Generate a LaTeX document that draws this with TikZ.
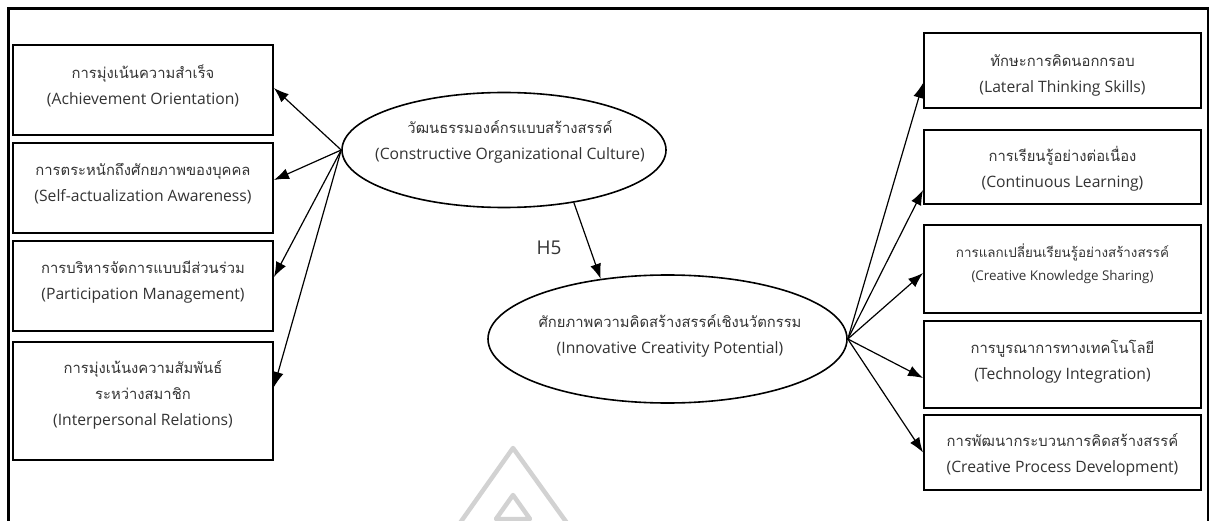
\documentclass[tikz,border=0pt]{standalone}
\usepackage{fontspec}
\setmainfont{Open Sans}
\newfontfamily\thai[Script=Thai]{Loma}
\usetikzlibrary{shapes.geometric,arrows.meta}
\definecolor{inkgrey}{HTML}{333333}
\definecolor{markgrey}{HTML}{D2D2D2}
% Thai line and English line of a two-language label
\newcommand{\thline}[1]{{\thai\fontsize{14.8}{26}\selectfont #1}}
\newcommand{\thsmall}[1]{{\thai\fontsize{13.4}{23}\selectfont #1}}
\begin{document}
\begin{tikzpicture}[x=1pt,y=-1pt,
  box/.style={draw=black,line width=1.9pt,inner sep=0pt},
  lbox/.style={box,minimum width=260pt},
  rbox/.style={box,minimum width=277pt},
  oval/.style={draw=black,line width=1.6pt,ellipse,inner sep=0pt},
  txt/.style={align=center,text=inkgrey,font=\fontsize{15.7}{26}\selectfont,inner sep=0pt},
  smalltxt/.style={txt,font=\fontsize{13.4}{23}\selectfont},
  link/.style={draw=black,line width=1.2pt,-{Latex[length=15pt,width=11pt]}},
  frameline/.style={draw=black,line width=2.8pt},
  emblem/.style={draw=markgrey,line width=4.5pt,line join=round,line cap=round}]
\useasboundingbox (0,0) rectangle (1214,521);
\clip (0,0) rectangle (1214,521);

% outer frame, open at the bottom
\draw[frameline] (8.5,530) -- (8.5,8.5) -- (1208,8.5) -- (1208,530);

% grey emblem along the lower edge
\draw[emblem] (455,530) -- (513,448) -- (572,530);
\draw[emblem] (496,519) -- (513,495) -- (530,519) -- cycle;

% dimension boxes, left
\node[lbox,minimum height=90pt]  (L1) at (143,90) {};
\node[lbox,minimum height=90pt]  (L2) at (143,188) {};
\node[lbox,minimum height=90pt]  (L3) at (143,286) {};
\node[lbox,minimum height=118pt] (L4) at (143,401) {};
\node[txt] (tL1) at (143,86) {\thline{การมุ่งเน้นความสำเร็จ}\\(Achievement Orientation)};
\node[txt] (tL2) at (143,183.5) {\thline{การตระหนักถึงศักยภาพของบุคคล}\\(Self-actualization Awareness)};
\node[txt] (tL3) at (143,282) {\thline{การบริหารจัดการแบบมีส่วนร่วม}\\(Participation Management)};
\node[txt] (tL4) at (143,395) {\thline{การมุ่งเน้นงความสัมพันธ์}\\\thline{ระหว่างสมาชิก}\\(Interpersonal Relations)};

% dimension boxes, right
\node[rbox,minimum height=75pt] (R1) at (1062.5,70.5) {};
\node[rbox,minimum height=74pt] (R2) at (1062.5,167) {};
\node[rbox,minimum height=88pt] (R3) at (1062.5,269) {};
\node[rbox,minimum height=87pt] (R4) at (1062.5,364.5) {};
\node[rbox,minimum height=75pt] (R5) at (1062.5,452.5) {};
\node[txt] (tR1) at (1062.5,75) {\thline{ทักษะการคิดนอกกรอบ}\\(Lateral Thinking Skills)};
\node[txt] (tR2) at (1062.5,168.5) {\thline{การเรียนรู้อย่างต่อเนื่อง}\\(Continuous Learning)};
\node[smalltxt] (tR3) at (1062.5,263.5) {\thsmall{การแลกเปลี่ยนเรียนรู้อย่างสร้างสรรค์}\\(Creative Knowledge Sharing)};
\node[txt] (tR4) at (1062.5,361.5) {\thline{การบูรณาการทางเทคโนโลยี}\\(Technology Integration)};
\node[txt] (tR5) at (1062.5,455) {\thline{การพัฒนากระบวนการคิดสร้างสรรค์}\\(Creative Process Development)};

% latent constructs
\node[oval,minimum width=324pt,minimum height=115pt] (E1) at (504,150) {};
\node[oval,minimum width=359pt,minimum height=128pt] (E2) at (667.5,339) {};
\node[txt] (tE1) at (510,141.5) {\thline{วัฒนธรรมองค์กรแบบสร้างสรรค์}\\(Constructive Organizational Culture)};
\node[txt] (tE2) at (670,336) {\thline{ศักยภาพความคิดสร้างสรรค์เชิงนวัตกรรม}\\(Innovative Creativity Potential)};

% loadings of the first construct
\draw[link] (E1.west) -- ([yshift=2pt]L1.east);
\draw[link] (E1.west) -- ([yshift=8pt]L2.east);
\draw[link] (E1.west) -- ([yshift=9pt]L3.east);
\draw[link] (E1.west) -- ([yshift=14pt]L4.east);

% loadings of the second construct
\draw[link] (E2.east) -- ([yshift=-12.5pt]R1.west);
\draw[link] (E2.east) -- ([yshift=-23pt]R2.west);
\draw[link] (E2.east) -- ([yshift=-4pt]R3.west);
\draw[link] (E2.east) -- ([yshift=-13.5pt]R4.west);
\draw[link] (E2.east) -- (R5.west);

% structural path
\draw[link] (E1.-37) -- (E2.138);
\node[txt,font=\fontsize{19}{22}\selectfont] (h5) at (549,248) {H5};
\end{tikzpicture}
\end{document}
